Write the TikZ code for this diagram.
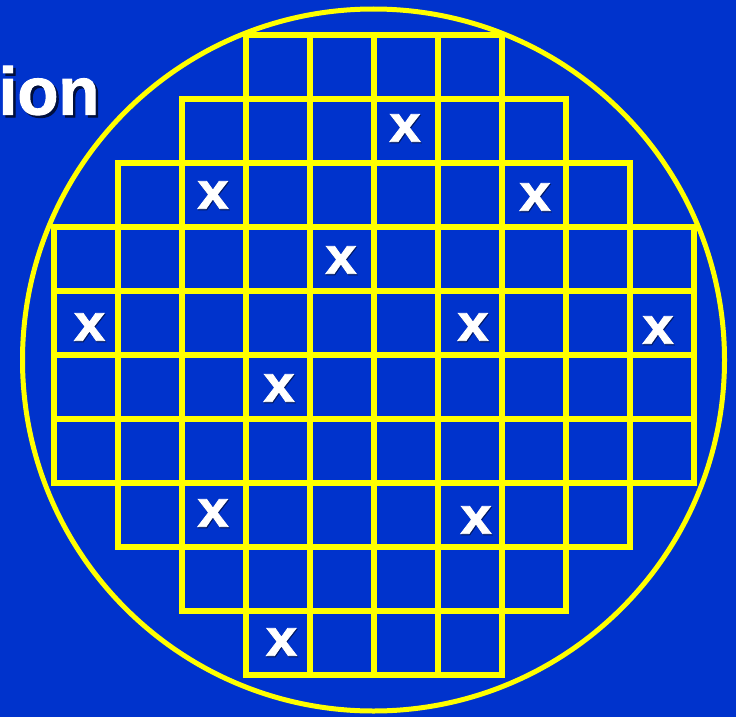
\documentclass[tikz,border=0pt]{standalone}
\usepackage{fontspec}
\setmainfont{Liberation Sans}
\newfontfamily\heavyfont[FakeBold=1.6]{Liberation Sans Bold}
\definecolor{bgblue}{HTML}{0033CC}
\definecolor{wyellow}{HTML}{FFFF00}
\definecolor{shadowblue}{HTML}{001A66}
\begin{document}
\begin{tikzpicture}[x=1pt,y=-1pt,
  gridline/.style={draw=wyellow,line width=5.4pt,line join=miter},
  rim/.style={draw=wyellow,line width=5pt},
  xmark/.style={text=white,font=\fontsize{52}{52}\heavyfont,inner sep=0pt,xscale=1.08},
  xshadow/.style={text=shadowblue,font=\fontsize{52}{52}\heavyfont,inner sep=0pt,xscale=1.08},
  title/.style={text=white,font=\fontsize{67}{67}\heavyfont,inner sep=0pt,anchor=base east},
  titleshadow/.style={text=black!70!bgblue,font=\fontsize{67}{67}\heavyfont,inner sep=0pt,anchor=base east}]
\useasboundingbox (0,0) rectangle (736,717);
\clip (0,0) rectangle (736,717);
\fill[bgblue] (0,0) rectangle (736,717);
% title fragment
\node[titleshadow] (tsh) at (102,117) {ion};
\node[title] (ttl) at (99.5,114.5) {ion};
% wafer outline
\node[circle,rim,minimum size=702pt,inner sep=0pt] (wafer) at (373.5,360) {};
% die grid: row, first column, last column
\foreach \r/\a/\b in {0/3/6,1/2/7,2/1/8,3/0/9,4/0/9,5/0/9,6/0/9,7/1/8,8/2/7,9/3/6}{
  \foreach \c in {\a,...,\b}{
    \draw[gridline] ({54+64*\c},{35+64*\r}) rectangle ({118+64*\c},{99+64*\r});
  }
}
% defective dies
\foreach \n/\px/\py in {a/405/128,b/213/195,c/535/197,d/341/260,e/89.5/327,f/473/327,g/658/330,h/279/388,i/213/513,j/476/520,k/281.5/642}{
  \node[xshadow] (s\n) at (\px+0.8,\py+1.2) {x};
  \node[xmark] (x\n) at (\px,\py) {x};
}
\end{tikzpicture}
\end{document}
